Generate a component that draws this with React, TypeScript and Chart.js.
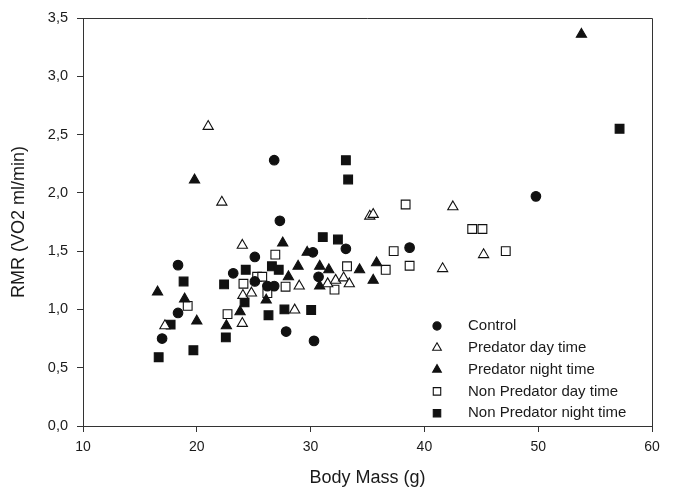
import React, { useEffect, useRef } from 'react';
import { Chart, registerables } from 'chart.js';

Chart.register(...registerables);

// ---- data ----
const seriesLabels = [
  'Control',
  'Predator day time',
  'Predator night time',
  'Non Predator day time',
  'Non Predator night time',
];

const controlMass = [16.95, 18.35, 18.35, 23.2, 25.1, 25.1, 26.2, 26.8, 26.8, 27.3, 27.85, 30.2, 30.3, 30.7, 33.1, 38.7, 49.8];
const controlRmr = [0.75, 0.97, 1.38, 1.31, 1.45, 1.24, 1.2, 1.2, 2.28, 1.76, 0.81, 1.49, 0.73, 1.28, 1.52, 1.53, 1.97];

const predDayMass = [17.2, 21.0, 22.2, 24.0, 24.05, 24.8, 24.0, 28.6, 29.0, 31.5, 32.2, 32.9, 33.4, 35.2, 35.5, 41.6, 42.5, 45.2];
const predDayRmr = [0.86, 2.57, 1.92, 1.55, 1.12, 1.14, 0.88, 0.995, 1.2, 1.22, 1.25, 1.27, 1.22, 1.8, 1.815, 1.35, 1.88, 1.47];

const predNightMass = [16.55, 18.93, 19.8, 20.0, 22.6, 23.8, 26.1, 27.55, 28.05, 28.9, 29.7, 30.8, 30.8, 31.6, 34.3, 35.5, 35.8, 53.8];
const predNightRmr = [1.15, 1.09, 2.11, 0.9, 0.86, 0.98, 1.08, 1.57, 1.28, 1.37, 1.49, 1.37, 1.2, 1.34, 1.34, 1.25, 1.4, 3.36];

const nonPredDayMass = [19.2, 22.7, 24.1, 25.3, 25.75, 26.2, 26.9, 27.8, 32.1, 33.2, 36.6, 37.3, 38.35, 38.7, 44.2, 45.1, 47.15];
const nonPredDayRmr = [1.03, 0.96, 1.22, 1.28, 1.28, 1.14, 1.47, 1.195, 1.17, 1.37, 1.34, 1.5, 1.9, 1.375, 1.69, 1.69, 1.5];

const nonPredNightMass = [16.65, 17.7, 18.84, 19.7, 22.4, 22.55, 24.2, 24.3, 26.3, 26.6, 27.2, 27.7, 30.05, 31.07, 32.4, 33.1, 33.3, 57.15];
const nonPredNightRmr = [0.59, 0.87, 1.24, 0.65, 1.215, 0.76, 1.06, 1.34, 0.95, 1.37, 1.34, 1.0, 0.995, 1.62, 1.6, 2.28, 2.115, 2.55];

const xTitle = 'Body Mass (g)';
const yTitle = 'RMR (VO2 ml/min)';

const toPoints = (xs: number[], ys: number[]) => xs.map((x, i) => ({ x, y: ys[i] }));

const INK = '#111111';
const AXIS = '#333333';
const TEXT = '#1a1a1a';
const FONT = "'Liberation Sans', Arial, Helvetica, sans-serif";

type MarkerSpec = { style: string; filled: boolean; radius: number };
const markers: MarkerSpec[] = [
  { style: 'circle', filled: true, radius: 4.8 },
  { style: 'triangle', filled: false, radius: 5.9 },
  { style: 'triangle', filled: true, radius: 5.9 },
  { style: 'rect', filled: false, radius: 6.2 },
  { style: 'rect', filled: true, radius: 6.2 },
];

function drawMarker(ctx: CanvasRenderingContext2D, m: MarkerSpec, x: number, y: number, r: number) {
  ctx.save();
  ctx.beginPath();
  if (m.style === 'circle') {
    ctx.arc(x, y, r, 0, Math.PI * 2);
  } else if (m.style === 'triangle') {
    let a = 0;
    ctx.moveTo(x + Math.sin(a) * r, y - Math.cos(a) * r);
    a += (2 * Math.PI) / 3;
    ctx.lineTo(x + Math.sin(a) * r, y - Math.cos(a) * r);
    a += (2 * Math.PI) / 3;
    ctx.lineTo(x + Math.sin(a) * r, y - Math.cos(a) * r);
    ctx.closePath();
  } else {
    const s = Math.SQRT1_2 * r;
    ctx.rect(x - s, y - s, 2 * s, 2 * s);
  }
  ctx.fillStyle = m.filled ? INK : '#ffffff';
  ctx.fill();
  ctx.lineWidth = 1.1;
  ctx.strokeStyle = INK;
  ctx.stroke();
  ctx.restore();
}

const framePlugin = {
  id: 'frameAndLegend',
  afterDraw(chart: any) {
    const { ctx, chartArea } = chart;
    const { left, right, top, bottom } = chartArea;
    ctx.save();
    ctx.strokeStyle = AXIS;
    ctx.lineWidth = 1;
    ctx.beginPath();
    ctx.moveTo(left, top + 0.5);
    ctx.lineTo(right + 0.5, top + 0.5);
    ctx.lineTo(right + 0.5, bottom);
    ctx.stroke();
    ctx.restore();

    // legend inside the plot, lower right
    const mx = left + 354;
    const tx = left + 385;
    const y0 = top + 308;
    const dy = 21.8;
    ctx.save();
    ctx.font = `15px ${FONT}`;
    ctx.textBaseline = 'middle';
    ctx.textAlign = 'left';
    seriesLabels.forEach((label, i) => {
      const y = y0 + i * dy;
      drawMarker(ctx, markers[i], mx, y, markers[i].radius * 0.85);
      ctx.fillStyle = TEXT;
      ctx.fillText(label, tx, y);
    });
    ctx.restore();
  },
};

export default function App() {
  const canvasRef = useRef<HTMLCanvasElement | null>(null);

  useEffect(() => {
    if (!canvasRef.current) return;
    const seriesData = [
      toPoints(controlMass, controlRmr),
      toPoints(predDayMass, predDayRmr),
      toPoints(predNightMass, predNightRmr),
      toPoints(nonPredDayMass, nonPredDayRmr),
      toPoints(nonPredNightMass, nonPredNightRmr),
    ];
    const chart = new Chart(canvasRef.current, {
      type: 'scatter',
      data: {
        datasets: seriesData.map((data, i) => ({
          label: seriesLabels[i],
          data,
          pointStyle: markers[i].style as any,
          pointRadius: markers[i].radius,
          pointHoverRadius: markers[i].radius,
          pointBackgroundColor: markers[i].filled ? INK : '#ffffff',
          pointBorderColor: INK,
          pointBorderWidth: 1.1,
          showLine: false,
        })),
      },
      options: {
        animation: false,
        responsive: false,
        devicePixelRatio: 1,
        layout: { padding: { top: 18, right: 21, left: 0, bottom: 0 } },
        plugins: {
          legend: { display: false },
          tooltip: { enabled: false },
        },
        scales: {
          x: {
            type: 'linear',
            min: 10,
            max: 60,
            afterFit: (s: any) => { s.height = 71; },
            ticks: {
              stepSize: 10,
              color: TEXT,
              font: { family: FONT, size: 14 },
              padding: 7,
              callback: (v: any) => String(v),
            },
            grid: { drawOnChartArea: false, drawTicks: true, tickLength: 6, color: AXIS },
            border: { display: true, color: AXIS, width: 1 },
            title: {
              display: true,
              text: xTitle,
              color: TEXT,
              font: { family: FONT, size: 18 },
              padding: { top: 0, bottom: 8 },
            },
          },
          y: {
            type: 'linear',
            min: 0,
            max: 3.5,
            afterFit: (s: any) => { s.width = 83; },
            ticks: {
              stepSize: 0.5,
              color: TEXT,
              font: { family: FONT, size: 14.5 },
              padding: 9,
              callback: (v: any) => Number(v).toFixed(1).replace('.', ','),
            },
            grid: { drawOnChartArea: false, drawTicks: true, tickLength: 6, color: AXIS },
            border: { display: true, color: AXIS, width: 1 },
            title: {
              display: true,
              text: yTitle,
              color: TEXT,
              font: { family: FONT, size: 18 },
              padding: { top: 8, bottom: 8 },
            },
          },
        },
      },
      plugins: [framePlugin],
    });
    return () => chart.destroy();
  }, []);

  return (
    <div style={{ position: 'absolute', left: 0, top: 0, width: 673, height: 497, background: '#ffffff' }}>
      <canvas ref={canvasRef} width={673} height={497} style={{ display: 'block', width: 673, height: 497 }} />
    </div>
  );
}
